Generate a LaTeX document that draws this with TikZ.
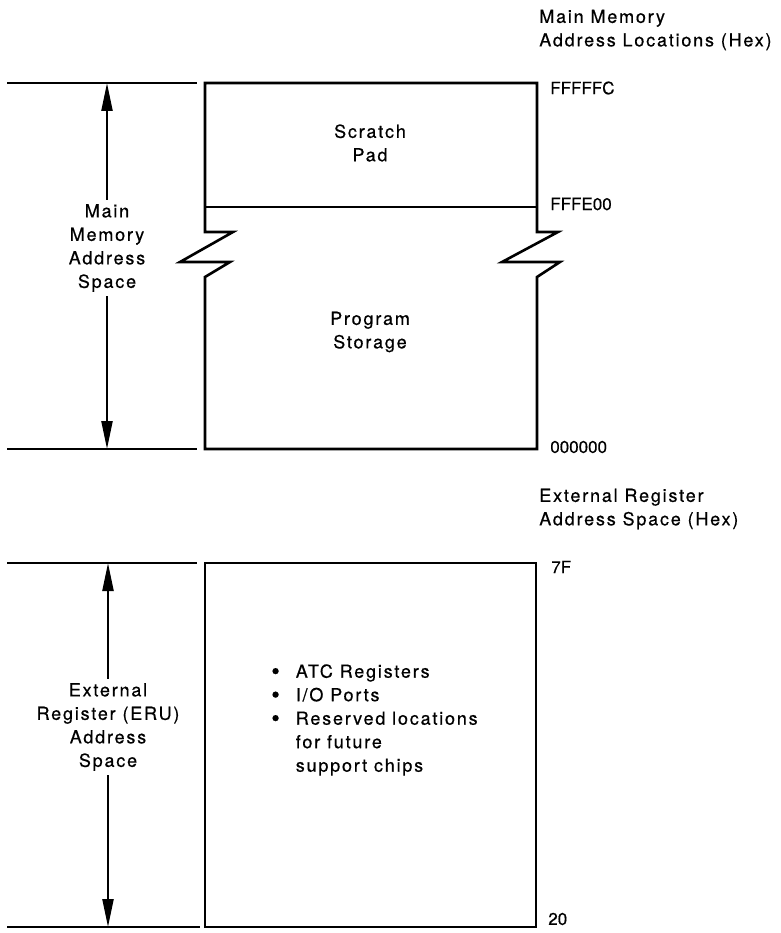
\documentclass[tikz,border=0pt]{standalone}
\usepackage{fontspec}
\setmainfont{TeX Gyre Heros}[LetterSpace=10,FakeBold=0.5]
\newfontfamily\hexfont{TeX Gyre Heros}[FakeBold=0.5]
\usetikzlibrary{arrows.meta}
\begin{document}
\begin{tikzpicture}[x=1pt,y=-1pt,line width=2.6pt,line join=miter,
  txt/.style={font=\fontsize{18}{23.5}\selectfont,inner sep=3pt,align=center},
  hdr/.style={txt,anchor=west,align=left},
  hex/.style={font=\hexfont\fontsize{17}{20}\selectfont,inner sep=3pt,anchor=west},
  lbl/.style={txt,fill=white,inner sep=4pt},
  dim/.style={{Triangle[length=28pt,width=11pt]}-{Triangle[length=28pt,width=11pt]},line width=2.2pt}]
\useasboundingbox (0,0) rectangle (780,933);
% ---------- main memory ----------
\coordinate (mtl) at (205,83);
\coordinate (mtr) at (537,83);
\coordinate (mbl) at (205,449);
\coordinate (mbr) at (537,449);
\coordinate (mdl) at (205,207);
\coordinate (mdr) at (537,207);
\coordinate (mlt) at (7,83);
\coordinate (mltr) at (197,83);
\coordinate (mlb) at (7,449);
\coordinate (mlbr) at (197,449);
\coordinate (marT) at (107,83);
\coordinate (marB) at (107,449);
\draw (mlt) -- (mltr);
\draw (mlb) -- (mlbr);
% box outline with zigzags
\draw (mtl) -- (mtr) -- (537,232) -- (558,232) -- (502,262) -- (560,262) -- (537,277) -- (mbr) -- (mbl)
      -- (205,277) -- (230,262) -- (180,262) -- (233,232) -- (205,232) -- cycle;
\draw (mdl) -- (mdr);
\draw[dim] (marT) -- (marB);
\node[lbl] (mmas) at (107,248) {Main\\Memory\\Address\\Space};
\node[txt] (sp) at (370,143) {Scratch\\Pad};
\node[txt] (ps) at (370,332) {Program\\Storage};
\node[hdr] (mhdr) at (535,30) {Main Memory\\Address Locations (Hex)};
\node[hex] (a1) at (546,88) {FFFFFC};
\node[hex] (a2) at (546,204) {FFFE00};
\node[hex] (a3) at (546,447) {000000};
% ---------- external register ----------
\coordinate (etl) at (205,563);
\coordinate (etr) at (536,563);
\coordinate (ebl) at (205,927);
\coordinate (ebr) at (536,927);
\coordinate (elt) at (7,563);
\coordinate (eltr) at (197,563);
\coordinate (elb) at (7,927);
\coordinate (elbr) at (200,927);
\draw (elt) -- (eltr);
\draw (elb) -- (elbr);
\draw (etl) rectangle (ebr);
\draw[dim] (108,563) -- (108,927);
\node[lbl] (eras) at (108,727) {External\\Register (ERU)\\Address\\Space};
\node[hdr] (ehdr) at (535,509) {External Register\\Address Space (Hex)};
\node[hex] (b1) at (547,567) {7F};
\node[hex] (b2) at (544,919) {20};
\node[txt,anchor=west,align=left] (list) at (267,720) {%
  \begin{tabular}{@{}l@{\hspace{16pt}}l@{}}
  \raisebox{-0.1em}{\scalebox{1.35}{\textbullet}} & ATC Registers\\
  \raisebox{-0.1em}{\scalebox{1.35}{\textbullet}} & I/O Ports\\
  \raisebox{-0.1em}{\scalebox{1.35}{\textbullet}} & Reserved locations\\
   & for future\\
   & support chips
  \end{tabular}};
\end{tikzpicture}
\end{document}
